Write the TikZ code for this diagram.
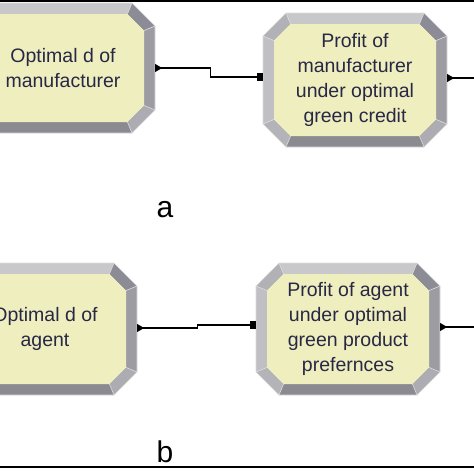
\documentclass[tikz,border=0pt]{standalone}
\usepackage{fontspec}
\setmainfont{Liberation Sans}
\usetikzlibrary{arrows.meta,calc}
\definecolor{yfill}{RGB}{238,238,190}
\definecolor{fTop}{RGB}{200,200,202}
\definecolor{fTR}{RGB}{140,140,150}
\definecolor{fR}{RGB}{156,156,162}
\definecolor{fBR}{RGB}{172,172,178}
\definecolor{fB}{RGB}{138,138,144}
\definecolor{fBL}{RGB}{180,180,184}
\definecolor{fL}{RGB}{192,192,196}
\definecolor{fTL}{RGB}{178,178,182}
\definecolor{sep}{RGB}{220,220,222}
\definecolor{txt}{RGB}{40,40,70}
\tikzset{
  boxtext/.style={align=center, inner sep=0pt, text=txt, font=\fontsize{19.5}{25}\selectfont},
  conn/.style={line width=1.1pt, black},
  sublabel/.style={inner sep=0pt, font=\fontsize{30}{30}\selectfont, text=black},
  facetsep/.style={draw=sep, line width=0.6pt}
}
\def\bb{11}
\def\bc{23}
\newcommand\bevbox[6]{%
  \begin{scope}[shift={(#2,#3)}]
    \pgfmathsetmacro\bxW{#4}\pgfmathsetmacro\bxH{#5}
    \pgfmathsetmacro\bxw{#4-\bb}\pgfmathsetmacro\bxh{#5-\bb}
    \pgfmathsetmacro\bxc{\bc-0.586*\bb}
    \coordinate (O1) at (-\bxW+\bc,-\bxH); \coordinate (O2) at (\bxW-\bc,-\bxH);
    \coordinate (O3) at (\bxW,-\bxH+\bc); \coordinate (O4) at (\bxW,\bxH-\bc);
    \coordinate (O5) at (\bxW-\bc,\bxH); \coordinate (O6) at (-\bxW+\bc,\bxH);
    \coordinate (O7) at (-\bxW,\bxH-\bc); \coordinate (O8) at (-\bxW,-\bxH+\bc);
    \coordinate (I1) at (-\bxw+\bxc,-\bxh); \coordinate (I2) at (\bxw-\bxc,-\bxh);
    \coordinate (I3) at (\bxw,-\bxh+\bxc); \coordinate (I4) at (\bxw,\bxh-\bxc);
    \coordinate (I5) at (\bxw-\bxc,\bxh); \coordinate (I6) at (-\bxw+\bxc,\bxh);
    \coordinate (I7) at (-\bxw,\bxh-\bxc); \coordinate (I8) at (-\bxw,-\bxh+\bxc);
    \fill[fTop] (O1)--(O2)--(I2)--(I1)--cycle;
    \fill[fTR] (O2)--(O3)--(I3)--(I2)--cycle;
    \fill[fR] (O3)--(O4)--(I4)--(I3)--cycle;
    \fill[fBR] (O4)--(O5)--(I5)--(I4)--cycle;
    \fill[fB] (O5)--(O6)--(I6)--(I5)--cycle;
    \fill[fBL] (O6)--(O7)--(I7)--(I6)--cycle;
    \fill[fL] (O7)--(O8)--(I8)--(I7)--cycle;
    \fill[fTL] (O8)--(O1)--(I1)--(I8)--cycle;
    \fill[yfill] (I1)--(I2)--(I3)--(I4)--(I5)--(I6)--(I7)--(I8)--cycle;
    \foreach \k in {1,...,8}{\draw[facetsep] (O\k)--(I\k);}
    \draw[facetsep] (O1)--(O2)--(O3)--(O4)--(O5)--(O6)--(O7)--(O8)--cycle;
  \end{scope}
  \node[boxtext, minimum width={2*#4*1pt}, minimum height={2*#5*1pt}] (#1) at (#2,#3) {#6};
}
\begin{document}
\begin{tikzpicture}[x=1pt,y=-1pt]
\useasboundingbox (0,0) rectangle (474,474);
\clip (0,0) rectangle (474,474);
\fill[white] (0,0) rectangle (474,474);
% part a
\bevbox{n1}{63}{68}{92}{65}{Optimal d of\\manufacturer}
\bevbox{n2}{355}{80}{92}{67}{Profit of\\manufacturer\\under optimal\\green credit}
\coordinate (e1) at (476,78);
\draw[conn,-{Square[length=6pt,width=8pt]}] (n1.east) -- ++(55,0) |- ([yshift=3pt]n2.west);
\fill ([yshift=4pt]n1.east) -- ([yshift=-4pt]n1.east) -- ([xshift=7pt]n1.east) -- cycle;
\draw[conn] ([yshift=2pt]n2.east) -- (e1);
\fill ([yshift=6pt]n2.east) -- ([yshift=-2pt]n2.east) -- ([xshift=7pt,yshift=2pt]n2.east) -- cycle;
\node[sublabel] (la) at (165,210) {a};
% part b
\bevbox{n3}{45}{329}{92}{66}{Optimal d of\\agent}
\bevbox{n4}{348}{329}{92}{66}{Profit of agent\\under optimal\\green product\\prefernces}
\coordinate (e2) at (476,327);
\draw[conn,-{Square[length=6pt,width=8pt]}] ([yshift=1pt]n3.east) -- ++(60,0) |- ([yshift=4pt]n4.west);
\fill ([yshift=5pt]n3.east) -- ([yshift=-3pt]n3.east) -- ([xshift=7pt,yshift=1pt]n3.east) -- cycle;
\draw[conn] ([yshift=2pt]n4.east) -- (e2);
\fill ([yshift=6pt]n4.east) -- ([yshift=-2pt]n4.east) -- ([xshift=7pt,yshift=2pt]n4.east) -- cycle;
\node[sublabel] (lb) at (165,452) {b};
% frame lines
\draw[line width=2.5pt] (0,1) -- (474,1);
\draw[line width=2pt] (0,467) -- (474,467);
\end{tikzpicture}
\end{document}
